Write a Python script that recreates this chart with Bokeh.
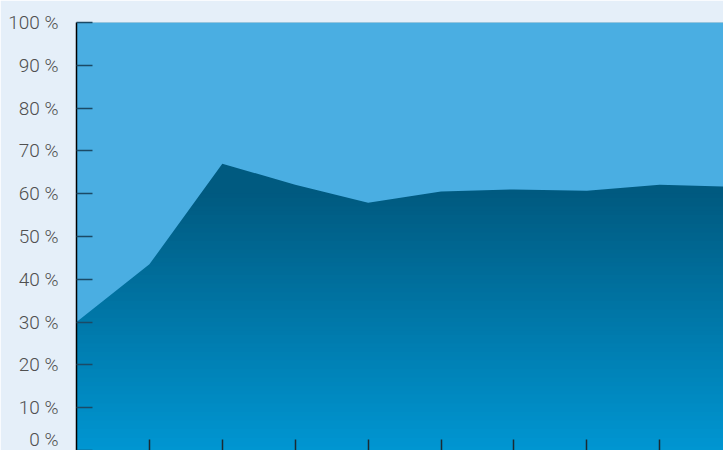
from bokeh.plotting import figure
from bokeh.models import FixedTicker, PrintfTickFormatter, Range1d
from bokeh.embed import file_html
from bokeh.resources import INLINE

# data
periods = list(range(10))
share = [30.0, 43.5, 67.0, 62.1, 57.9, 60.5, 61.0, 60.7, 62.1, 61.6]
y_ticks = [0, 10, 20, 30, 40, 50, 60, 70, 80, 90, 100]
x_ticks = [1, 2, 3, 4, 5, 6, 7, 8, 9]

BG = "#e5eff9"
LIGHT = "#4aaee2"
DARK_TOP = (0, 90, 128)
DARK_BOTTOM = (0, 150, 210)

p = figure(width=723, height=450, output_backend="svg", toolbar_location=None,
           x_range=Range1d(0, 8.875), y_range=Range1d(0, 100),
           min_border_left=76, min_border_top=22, min_border_right=0, min_border_bottom=0)
p.background_fill_color = BG
p.border_fill_color = BG
p.outline_line_color = None
p.xgrid.visible = False
p.ygrid.visible = False

# vertical gradient for the lower area (bands), constant above 60 %
n = 60
lefts, rights, bottoms, tops, colors = [], [], [], [], []
for i in range(n):
    b = i * 60.0 / n
    t = b + 60.0 / n
    f = 1 - (b + t) / 2 / 60.0
    c = tuple(int(round(DARK_TOP[k] + (DARK_BOTTOM[k] - DARK_TOP[k]) * f)) for k in range(3))
    lefts.append(-1); rights.append(11); bottoms.append(b); tops.append(t + 0.4)
    colors.append("#%02x%02x%02x" % c)
lefts.append(-1); rights.append(11); bottoms.append(60.0); tops.append(100.0)
colors.append("#%02x%02x%02x" % DARK_TOP)
p.quad(left=lefts, right=rights, bottom=bottoms, top=tops, fill_color=colors, line_color=None)

# upper (light) area from the series to 100 %
p.varea(x=periods, y1=share, y2=[100] * len(periods), fill_color=LIGHT)

yax = p.yaxis[0]
yax.ticker = FixedTicker(ticks=y_ticks)
yax.formatter = PrintfTickFormatter(format="%d %%")
yax.axis_line_color = "black"
yax.axis_line_width = 1.5
yax.major_tick_in = 16
yax.major_tick_out = 0
yax.major_tick_line_color = "#1b4a66"
yax.major_tick_line_width = 1.5
yax.minor_tick_line_color = None
yax.major_label_standoff = 18
yax.major_label_text_font = "Roboto Light"
yax.major_label_text_font_size = "19px"
yax.major_label_text_color = "#505050"

xax = p.xaxis[0]
xax.ticker = FixedTicker(ticks=x_ticks)
xax.major_label_overrides = {t: "" for t in x_ticks}
xax.axis_line_color = None
xax.major_tick_in = 11
xax.major_tick_out = 0
xax.major_tick_line_color = "#1a2a33"
xax.major_tick_line_width = 1.5
xax.minor_tick_line_color = None
xax.major_label_text_font_size = "1px"
xax.major_label_standoff = 0

open("out.html", "w").write(file_html(p, INLINE))
